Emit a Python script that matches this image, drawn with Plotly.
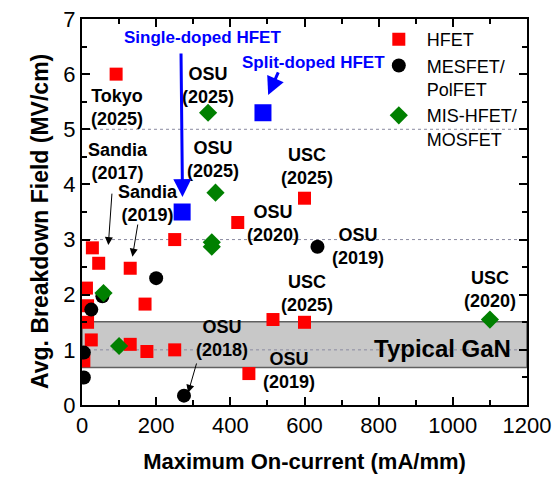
import plotly.graph_objects as go

# ---------------- data ----------------
hfet_x = [92, 28, 45, 130, 250, 12, 170, 15, 15, 25, 130, 175, 250, 5, 600, 420, 515, 600, 450]
hfet_y = [6.0, 2.85, 2.57, 2.48, 3.0, 2.12, 1.83, 1.80, 1.50, 1.18, 1.10, 0.97, 1.00, 0.80, 3.75, 3.31, 1.55, 1.50, 0.57]

mes_x = [5, 5, 25, 55, 200, 275, 635]
mes_y = [0.50, 0.95, 1.73, 1.97, 2.30, 0.17, 2.87]

mis_x = [340, 360, 350, 350, 58, 100, 1100]
mis_y = [5.30, 3.85, 2.95, 2.87, 2.03, 1.07, 1.55]

work_x = [270, 488]
work_y = [3.50, 5.30]

grid_y = [1, 3, 5]
band_y = [0.68, 1.51]

# label text, x, y
labels = [
    ("Tokyo<br>(2025)", 94, 5.39),
    ("Sandia<br>(2017)", 96, 4.42),
    ("Sandia<br>(2019)", 177, 3.65),
    ("OSU<br>(2025)", 340, 5.79),
    ("OSU<br>(2025)", 353, 4.45),
    ("USC<br>(2025)", 607, 4.33),
    ("OSU<br>(2020)", 514, 3.29),
    ("OSU<br>(2019)", 744, 2.88),
    ("USC<br>(2025)", 608, 2.03),
    ("OSU<br>(2018)", 378, 1.21),
    ("OSU<br>(2019)", 558, 0.62),
    ("USC<br>(2020)", 1100, 2.09),
]
# arrows: tail x, tail y, head x, head y, colour, width
arrows = [
    (267, 6.40, 271, 3.77, "#0000ff", 3),
    (531, 6.06, 502, 5.62, "#0000ff", 3),
    (81, 3.86, 71, 2.90, "black", 1),
    (151, 3.30, 136, 2.69, "black", 1),
    (310, 0.78, 286, 0.22, "black", 1),
]

FONT = "Liberation Sans, Arial, sans-serif"

fig = go.Figure()
fig.add_trace(go.Scatter(x=hfet_x, y=hfet_y, mode="markers", name="HFET",
                         marker=dict(symbol="square", size=13, color="#ff0000")))
fig.add_trace(go.Scatter(x=mes_x, y=mes_y, mode="markers", name="MESFET/<br>PolFET",
                         marker=dict(symbol="circle", size=14, color="black")))
fig.add_trace(go.Scatter(x=mis_x, y=mis_y, mode="markers", name="MIS-HFET/<br>MOSFET",
                         marker=dict(symbol="diamond", size=14, color="#008000")))
fig.add_trace(go.Scatter(x=work_x, y=work_y, mode="markers", name="This work", showlegend=False,
                         marker=dict(symbol="square", size=17, color="#0000ff")))

shapes = [dict(type="rect", xref="paper", yref="y", x0=0, x1=1, y0=band_y[0], y1=band_y[1],
               fillcolor="#c8c8c8", line=dict(color="#606060", width=1.5), layer="below")]
for g in grid_y:
    shapes.append(dict(type="line", xref="paper", yref="y", x0=0, x1=1, y0=g, y1=g,
                       line=dict(color="#8a8aa0", width=1, dash="3px,3px"), layer="below"))

annotations = []
for t, x, y in labels:
    annotations.append(dict(text=t, x=x, y=y, xref="x", yref="y", showarrow=False,
                            font=dict(family=FONT, size=18, color="black", weight="bold")))
annotations.append(dict(text="Typical GaN", x=971, y=1.03, xref="x", yref="y", showarrow=False,
                        font=dict(family=FONT, size=24, color="black", weight="bold")))
annotations.append(dict(text="Single-doped HFET", x=326, y=6.66, xref="x", yref="y", showarrow=False,
                        font=dict(family=FONT, size=17, color="#0000ff", weight="bold")))
annotations.append(dict(text="Split-doped HFET", x=623, y=6.22, xref="x", yref="y", showarrow=False,
                        font=dict(family=FONT, size=17, color="#0000ff", weight="bold")))
for tx, ty, hx, hy, c, w in arrows:
    annotations.append(dict(text="", x=hx, y=hy, ax=tx, ay=ty, xref="x", yref="y",
                            axref="x", ayref="y", showarrow=True, arrowhead=2,
                            arrowsize=1.2 if w > 1 else 1.6, arrowwidth=w, arrowcolor=c,
                            standoff=0, startstandoff=0))
plot_w = 556 - 82 - 29
plot_h = 478 - 73 - 19
annotations.append(dict(text="Avg. Breakdown Field (MV/cm)",
                        x=(25 - 82) / plot_w, y=(478 - 73 - 222) / plot_h,
                        xref="paper", yref="paper",
                        showarrow=False, textangle=-90,
                        font=dict(family=FONT, size=23, color="black", weight="bold")))

fig.update_layout(
    width=556, height=478,
    margin=dict(l=82, r=29, t=19, b=73, autoexpand=False),
    paper_bgcolor="white", plot_bgcolor="white",
    font=dict(family=FONT, color="black"),
    shapes=shapes, annotations=annotations,
    showlegend=True,
    legend=dict(x=0.649, y=0.995, xanchor="left", yanchor="top", bgcolor="rgba(0,0,0,0)",
                font=dict(family=FONT, size=18, color="black"), valign="top",
                tracegroupgap=0, itemwidth=46),
    xaxis=dict(range=[0, 1200], dtick=200, tick0=0, showgrid=False, zeroline=False,
               showline=True, linecolor="black", linewidth=2, mirror="allticks",
               ticks="inside", ticklen=8, tickwidth=1.5, tickcolor="black",
               minor=dict(dtick=100, ticklen=5, tickwidth=1.5, tickcolor="black", ticks="inside"),
               tickfont=dict(family=FONT, size=22, color="black"),
               title=dict(text="<b>Maximum On-current (mA/mm)</b>", standoff=16,
                          font=dict(family=FONT, size=22, color="black"))),
    yaxis=dict(range=[0, 7], dtick=1, tick0=0, showgrid=False, zeroline=False,
               showline=True, linecolor="black", linewidth=2, mirror="allticks",
               ticks="inside", ticklen=8, tickwidth=1.5, tickcolor="black",
               minor=dict(dtick=0.5, ticklen=5, tickwidth=1.5, tickcolor="black", ticks="inside"),
               tickfont=dict(family=FONT, size=22, color="black")),
)

fig.write_html("out.html")
